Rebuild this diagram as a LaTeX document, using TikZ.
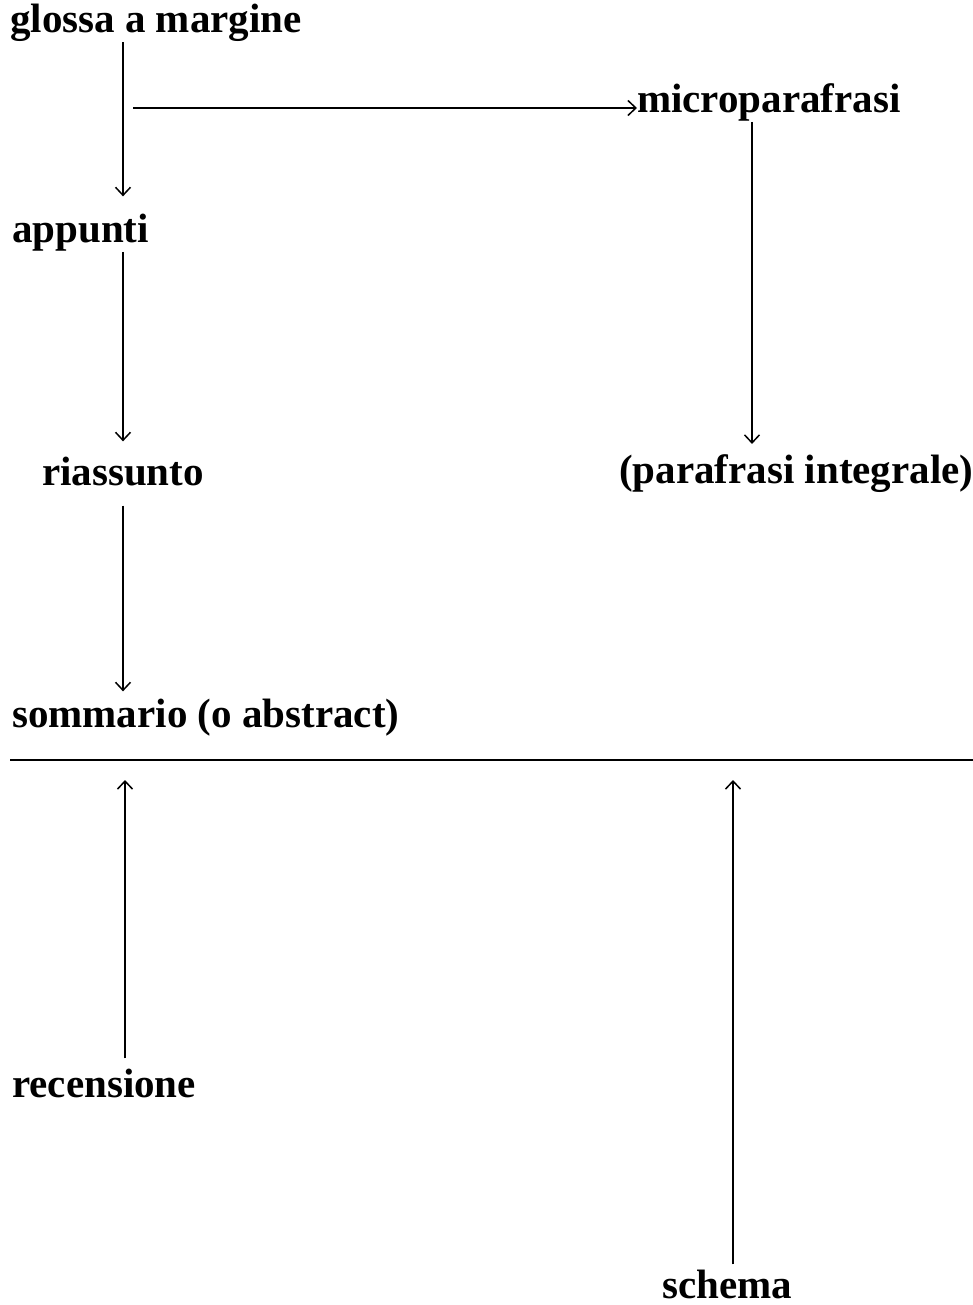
\documentclass[tikz,border=0pt]{standalone}
\usepackage{fontspec}
\setmainfont{Liberation Serif}
\usetikzlibrary{arrows.meta}
\begin{document}
\begin{tikzpicture}[x=1pt,y=-1pt,
  lbl/.style={anchor=base west,inner sep=0pt,font=\fontsize{41}{48}\bfseries\selectfont},
  arr/.style={line width=1.3pt,-{Straight Barb[length=8pt,width=15pt,line width=1.5pt]}},
  rule/.style={line width=1.4pt}]
\useasboundingbox (0,0) rectangle (973,1305);
\node[lbl] (glossa) at (10,33) {glossa a margine};
\node[lbl] (micro) at (637,113) {microparafrasi};
\node[lbl] (appunti) at (12,243) {appunti};
\node[lbl] (riass) at (42,485) {riassunto};
\node[lbl] (paraf) at (619,483) {(parafrasi integrale)};
\node[lbl] (somm) at (12,727) {sommario (o abstract)};
\node[lbl] (recens) at (12,1097) {recensione};
\node[lbl] (schema) at (662,1298) {schema};
\coordinate (branch) at (133,108);
\coordinate (ruleL) at (10,760);
\coordinate (ruleR) at (973,760);
\coordinate (upA) at (125,780);
\coordinate (upB) at (733,780);
\draw[arr] (glossa.south -| 123,0) -- ([yshift=18pt]appunti.north -| 123,0);
\draw[arr] (branch) -- (micro.west |- branch);
\draw[arr] (micro.south -| 752,0) -- ([yshift=10pt]paraf.north -| 752,0);
\draw[arr] (appunti.south -| 123,0) -- ([yshift=15pt]riass.north -| 123,0);
\draw[arr] ([yshift=-20pt]riass.south -| 123,0) -- ([yshift=7pt]somm.north -| 123,0);
\draw[rule] (ruleL) -- (ruleR);
\draw[arr] ([yshift=10pt]recens.north -| 125,0) -- (upA);
\draw[arr] ([yshift=5pt]schema.north -| 733,0) -- (upB);
\end{tikzpicture}
\end{document}
